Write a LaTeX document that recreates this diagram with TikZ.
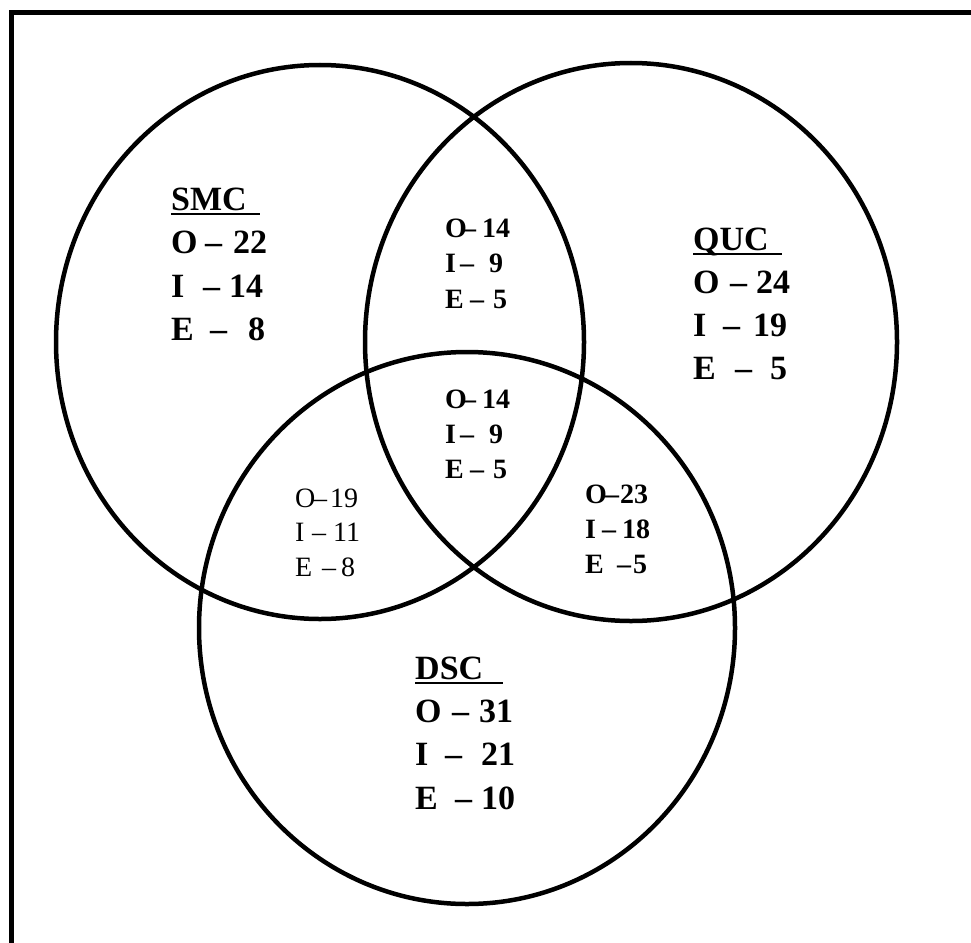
\documentclass[tikz,border=0pt]{standalone}
\usepackage{fontspec}
\setmainfont{Liberation Serif}
\newcommand{\rowtxt}[4]{\rlap{#1}\hspace{#2pt}\makebox[#3pt][r]{\rlap{–}\hfill#4}}
\begin{document}
\begin{tikzpicture}[x=1pt,y=-1pt,
  bigt/.style={anchor=base west,inner sep=0pt,font=\fontsize{34}{40}\selectfont\bfseries},
  midt/.style={anchor=base west,inner sep=0pt,font=\fontsize{28}{34}\selectfont\bfseries},
  midr/.style={anchor=base west,inner sep=0pt,font=\fontsize{28}{34}\selectfont},
  setline/.style={line width=4.5pt},
  uline/.style={line width=2pt}]
\useasboundingbox (0,0) rectangle (971,942);
\fill[white] (0,0) rectangle (971,942);
\clip (0,0) rectangle (971,942);
% frame
\draw[line width=5pt] (1000,13) -- (11.5,13) -- (11.5,1000);
% sets
\draw[setline] (320,342) ellipse [x radius=264pt, y radius=277pt];
\draw[setline] (631,342) ellipse [x radius=266pt, y radius=279pt];
\draw[setline] (467,628) ellipse [x radius=268pt, y radius=276pt];
% SMC
\node[bigt] (smc) at (171,210) {SMC};
\draw[uline] ([yshift=-4pt]smc.base west) -- ++(89,0);
\node[bigt] (smco) at (171,253) {\rowtxt{O}{34}{62}{22}};
\node[bigt] (smci) at (171,297) {\rowtxt{I}{32}{60}{14}};
\node[bigt] (smce) at (171,340) {\rowtxt{E}{39}{55}{8}};
% QUC
\node[bigt] (quc) at (693,250) {QUC};
\draw[uline] ([yshift=-4pt]quc.base west) -- ++(89,0);
\node[bigt] (quco) at (693,293) {\rowtxt{O}{37}{60}{24}};
\node[bigt] (quci) at (693,336) {\rowtxt{I}{30}{64}{19}};
\node[bigt] (quce) at (693,379) {\rowtxt{E}{42}{52}{5}};
% DSC
\node[bigt] (dsc) at (415,679) {DSC};
\draw[uline] ([yshift=-4pt]dsc.base west) -- ++(88,0);
\node[bigt] (dsco) at (415,722) {\rowtxt{O}{37}{61}{31}};
\node[bigt] (dsci) at (415,765) {\rowtxt{I}{30}{70}{21}};
\node[bigt] (dsce) at (415,809) {\rowtxt{E}{40}{60}{10}};
% SMC & QUC
\node[midt] (sqo) at (445,237) {\rowtxt{O}{17}{48}{14}};
\node[midt] (sqi) at (445,272) {\rowtxt{I}{15}{43}{9}};
\node[midt] (sqe) at (445,308) {\rowtxt{E}{25}{37}{5}};
% all three
\node[midt] (ao) at (445,408) {\rowtxt{O}{17}{48}{14}};
\node[midt] (ai) at (445,443) {\rowtxt{I}{15}{43}{9}};
\node[midt] (ae) at (445,478) {\rowtxt{E}{25}{37}{5}};
% SMC & DSC
\node[midr] (sdo) at (295,507) {\rowtxt{O}{18}{45}{19}};
\node[midr] (sdi) at (295,541) {\rowtxt{I}{17}{48}{11}};
\node[midr] (sde) at (295,576) {\rowtxt{E}{27}{33}{8}};
% QUC & DSC
\node[midt] (qdo) at (585,503) {\rowtxt{O}{20}{43}{23}};
\node[midt] (qdi) at (585,538) {\rowtxt{I}{17}{48}{18}};
\node[midt] (qde) at (585,573) {\rowtxt{E}{32}{30}{5}};
\end{tikzpicture}
\end{document}
